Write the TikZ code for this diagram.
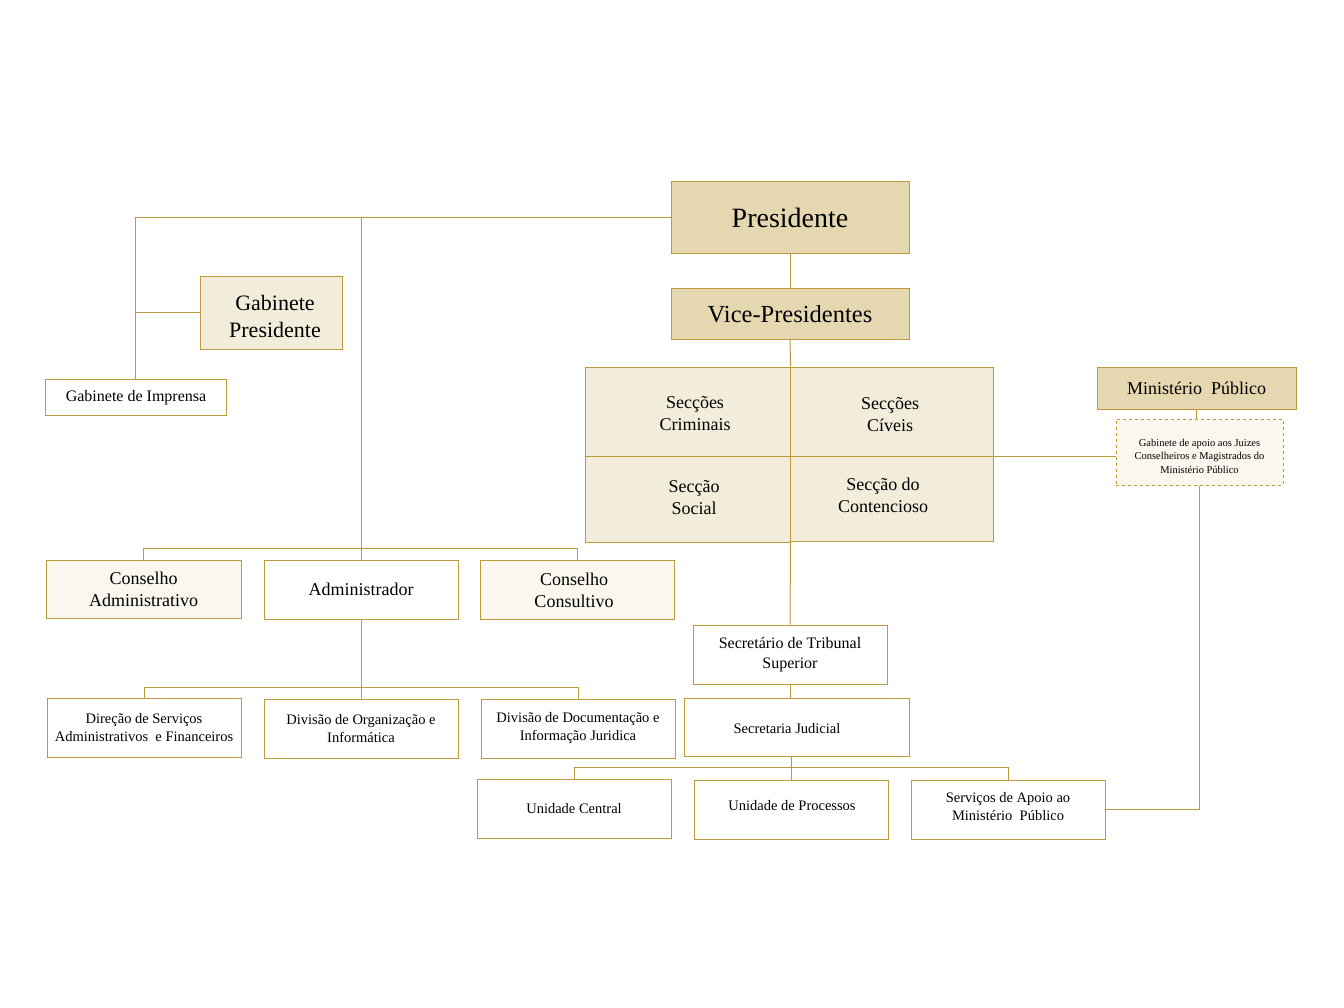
\documentclass[tikz,border=0pt]{standalone}
\usepackage{fontspec}
\setmainfont{Liberation Serif}
\definecolor{gold}{HTML}{BF9A3C}
\definecolor{tan}{HTML}{E5D8B0}
\definecolor{lite}{HTML}{F2EDDB}
\definecolor{vlite}{HTML}{FAF7EF}
\tikzset{
  box/.style={draw=gold, line width=1pt, rectangle, inner sep=0pt, align=center, text=black},
  wire/.style={draw=gold, line width=1pt},
  fa/.style={font=\fontsize{28}{32}\selectfont},
  fb/.style={font=\fontsize{24.5}{28}\selectfont},
  fc/.style={font=\fontsize{22}{27}\selectfont},
  fd/.style={font=\fontsize{18}{22}\selectfont},
  fe/.style={font=\fontsize{16}{20}\selectfont},
  ff/.style={font=\fontsize{14.5}{18}\selectfont},
  fg/.style={font=\fontsize{10.5}{13.5}\selectfont},
}
\begin{document}
\begin{tikzpicture}[x=1pt,y=-1pt]
\useasboundingbox[fill=white] (0,0) rectangle (1344,1008);

% top
\node[box, fill=tan, fa, minimum width=238, minimum height=72] (pres) at (790,218) {Presidente};
\node[box, fill=tan, fb, minimum width=238, minimum height=50] (vice) at (790,314) {Vice-Presidentes};
\node[box, fill=lite, minimum width=142, minimum height=72] (gp) at (271,313) {};
\node[fc, align=center] (gpt) at (275,316) {Gabinete\\Presidente};
\node[box, fill=white, minimum width=181, minimum height=36] (imp) at (135.5,397) {};
\node[fe] (impt) at (136,398) {Gabinete de Imprensa};

% grid of sections
\node[box, fill=lite, minimum width=205, minimum height=89] (crim) at (687.5,411.5) {};
\node[fd, align=center] (crimt) at (695,414) {Secções\\Criminais};
\node[box, fill=lite, minimum width=203, minimum height=89] (civ) at (891.5,411.5) {};
\node[fd, align=center] (civt) at (890,415) {Secções\\Cíveis};
\node[box, fill=lite, minimum width=205, minimum height=86] (soc) at (687.5,499) {};
\node[fd, align=center] (soct) at (694,498) {Secção\\Social};
\node[box, fill=lite, minimum width=203, minimum height=85] (cont) at (891.5,498.5) {};
\node[fd, align=center] (contt) at (883,495) {Secção do\\Contencioso};

% Ministerio Publico
\node[box, fill=tan, fd, minimum width=199, minimum height=42] (mp) at (1196.5,388) {Ministério\ \ Público};
\node[box, dashed, fill=vlite, minimum width=167, minimum height=66] (gab) at (1199.5,452) {};
\node[fg, align=center] (gabt) at (1199.5,456) {Gabinete de apoio aos Juizes\\Conselheiros e Magistrados do\\Ministério Público};

% councils row
\node[box, fill=vlite, fd, minimum width=195, minimum height=58] (ca) at (143.5,589) {Conselho\\Administrativo};
\node[box, fill=white, fd, minimum width=194, minimum height=59] (adm) at (361,589.5) {Administrador};
\node[box, fill=vlite, minimum width=194, minimum height=59] (cc) at (577,589.5) {};
\node[fd, align=center] (cct) at (574,590) {Conselho\\Consultivo};

% admin divisions
\node[box, fill=white, ff, minimum width=194, minimum height=59] (dir) at (144,727.5) {Direção de Serviços\\Administrativos\ \ e Financeiros};
\node[box, fill=white, ff, minimum width=194, minimum height=59] (org) at (361,728.5) {Divisão\ de Organização\ e\\Informática};
\node[box, fill=white, ff, minimum width=194, minimum height=59] (doc) at (578,728.5) {Divisão\ de Documentação e\\Informação Juridica};

% secretariat
\node[box, fill=white, fe, minimum width=194, minimum height=59] (sec) at (790,654.5) {Secretário de Tribunal\\Superior};
\node[box, fill=white, minimum width=225, minimum height=58] (sj) at (796.5,727) {};
\node[ff] (sjt) at (787,729) {Secretaria Judicial};

\node[box, fill=white, ff, minimum width=194, minimum height=59] (uc) at (574,808.5) {Unidade Central};
\node[box, fill=white, minimum width=194, minimum height=59] (up) at (791,809.5) {};
\node[ff] (upt) at (792,806) {Unidade de Processos};
\node[box, fill=white, minimum width=194, minimum height=59] (sa) at (1008,809.5) {};
\node[ff, align=center] (sat) at (1008,807) {Serviços de Apoio\ ao\\Ministério\ \ Público};

% connectors
\draw[wire] (pres.west) -| (imp.north);
\draw[wire] (gp.west) -- (gp.west -| imp.north);
\draw[wire] (adm.north) -- (adm.north |- pres.west);
\draw[wire] (ca.north) -- ++(0,-11) -| (cc.north);
\draw[wire] (pres.south) -- (vice.north);
\draw[wire] (vice.south) -- (crim.north east);
\draw[wire] (soc.south east) -- (sec.north);
\draw[wire] (sec.south) -- (sec.south |- sj.north);
\draw[wire] (uc.north) -- ++(0,-11) -| (sa.north);
\draw[wire] (up.north) -- (up.north |- sj.south);
\draw[wire] (dir.north) -- ++(0,-10) -| (doc.north);
\draw[wire] (adm.south) -- (org.north);
\draw[wire] (civ.south east) -- (civ.south east -| gab.west);
\draw[wire] (mp.south) -- (mp.south |- gab.north);
\draw[wire] (gab.south) |- (sa.east);
\end{tikzpicture}
\end{document}
